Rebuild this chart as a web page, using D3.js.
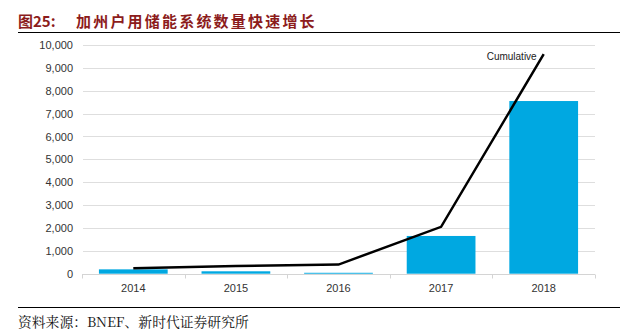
<!DOCTYPE html>
<html>
<head>
<meta charset="utf-8">
<script src="https://cdn.jsdelivr.net/npm/d3@7/dist/d3.min.js"></script>
<style>
  html, body { margin: 0; padding: 0; background: #fff; }
  svg { display: block; }
</style>
</head>
<body>
<svg id="chart" width="632" height="335"></svg>
<script>
// Residential storage systems installed in California, per year and cumulative
const years = ["2014", "2015", "2016", "2017", "2018"];
const annualSystems = [190, 105, 40, 1650, 7550];
const cumulativeSystems = [240, 340, 400, 2050, 9600];
const yTicks = [0, 1000, 2000, 3000, 4000, 5000, 6000, 7000, 8000, 9000, 10000];

const titleNum = "图25:";
const titleText = "加州户用储能系统数量快速增长";
const sourceText = "资料来源：BNEF、新时代证券研究所";
const lineLabel = "Cumulative";

const svg = d3.select("#chart");

const plot = { left: 82, right: 595, top: 45, bottom: 273.7 };

const x = d3.scaleBand()
  .domain(years)
  .range([plot.left, plot.right])
  .paddingInner(0.33)
  .paddingOuter(0.165);

const xOuter = d3.scaleBand()
  .domain(years)
  .range([plot.left, plot.right]);

const y = d3.scaleLinear()
  .domain([0, 10000])
  .range([plot.bottom, plot.top]);

// Header
svg.append("text")
  .attr("x", 18).attr("y", 27)
  .attr("font-family", "'Noto Sans CJK SC', sans-serif")
  .attr("font-weight", "bold")
  .attr("font-size", 15)
  .attr("fill", "#8c1c1c")
  .text(titleNum);
svg.append("text")
  .attr("x", 76).attr("y", 27)
  .attr("font-family", "'Noto Sans CJK SC', sans-serif")
  .attr("font-weight", "bold")
  .attr("font-size", 15)
  .attr("letter-spacing", 2.2)
  .attr("fill", "#8c1c1c")
  .text(titleText);
svg.append("line")
  .attr("x1", 18).attr("x2", 620)
  .attr("y1", 32.5).attr("y2", 32.5)
  .attr("stroke", "#000").attr("stroke-width", 1.2);

// Gridlines
svg.append("g")
  .selectAll("line")
  .data(yTicks.filter(d => d > 0))
  .join("line")
  .attr("x1", plot.left + 1).attr("x2", plot.right)
  .attr("y1", d => Math.round(y(d)) + 0.5)
  .attr("y2", d => Math.round(y(d)) + 0.5)
  .attr("stroke", "#dedede").attr("stroke-width", 1);

// Y axis labels
const yAxis = d3.axisLeft(y)
  .tickValues(yTicks)
  .tickFormat(d3.format(","))
  .tickSize(0)
  .tickPadding(9);
const gy = svg.append("g")
  .attr("transform", `translate(${plot.left},0)`)
  .call(yAxis);
gy.select(".domain").remove();
gy.selectAll("text")
  .attr("font-family", "'Liberation Sans', Arial, sans-serif")
  .attr("font-size", 11)
  .attr("fill", "#333");

// Bars
svg.append("g")
  .selectAll("rect")
  .data(years.map((yr, i) => ({ yr, v: annualSystems[i] })))
  .join("rect")
  .attr("x", d => x(d.yr))
  .attr("width", x.bandwidth())
  .attr("y", d => y(d.v))
  .attr("height", d => y(0) - y(d.v))
  .attr("fill", "#00a8e1");

// X axis
const xAxisLine = svg.append("g");
xAxisLine.append("line")
  .attr("x1", plot.left).attr("x2", plot.right)
  .attr("y1", Math.round(y(0)) + 0.5).attr("y2", Math.round(y(0)) + 0.5)
  .attr("stroke", "#d4d4d4");
xAxisLine.selectAll("line.tick")
  .data(years.concat(["end"]))
  .join("line")
  .attr("class", "tick")
  .attr("x1", (d, i) => Math.round(i < years.length ? xOuter(d) : plot.right) + 0.5)
  .attr("x2", (d, i) => Math.round(i < years.length ? xOuter(d) : plot.right) + 0.5)
  .attr("y1", Math.round(y(0)) + 0.5)
  .attr("y2", Math.round(y(0)) + 4.5)
  .attr("stroke", "#d4d4d4");
xAxisLine.selectAll("text")
  .data(years)
  .join("text")
  .attr("x", d => x(d) + x.bandwidth() / 2)
  .attr("y", 292)
  .attr("text-anchor", "middle")
  .attr("font-family", "'Liberation Sans', Arial, sans-serif")
  .attr("font-size", 11)
  .attr("fill", "#333")
  .text(d => d);

// Cumulative line
const line = d3.line()
  .x((d, i) => x(years[i]) + x.bandwidth() / 2)
  .y(d => y(d));
svg.append("path")
  .datum(cumulativeSystems)
  .attr("d", line)
  .attr("fill", "none")
  .attr("stroke", "#000")
  .attr("stroke-width", 2.5)
  .attr("stroke-linejoin", "miter");

const last = cumulativeSystems.length - 1;
svg.append("text")
  .attr("x", x(years[last]) + x.bandwidth() / 2 - 7)
  .attr("y", y(cumulativeSystems[last]) + 6)
  .attr("text-anchor", "end")
  .attr("font-family", "'Liberation Sans', Arial, sans-serif")
  .attr("font-size", 10)
  .attr("fill", "#222")
  .text(lineLabel);

// Footer
svg.append("line")
  .attr("x1", 18).attr("x2", 620)
  .attr("y1", 307.5).attr("y2", 307.5)
  .attr("stroke", "#000").attr("stroke-width", 1);
svg.append("text")
  .attr("x", 18).attr("y", 327)
  .attr("font-family", "'Noto Serif CJK SC', 'Noto Sans CJK SC', serif")
  .attr("font-size", 13.8)
  .attr("fill", "#111")
  .text(sourceText);
</script>
</body>
</html>
